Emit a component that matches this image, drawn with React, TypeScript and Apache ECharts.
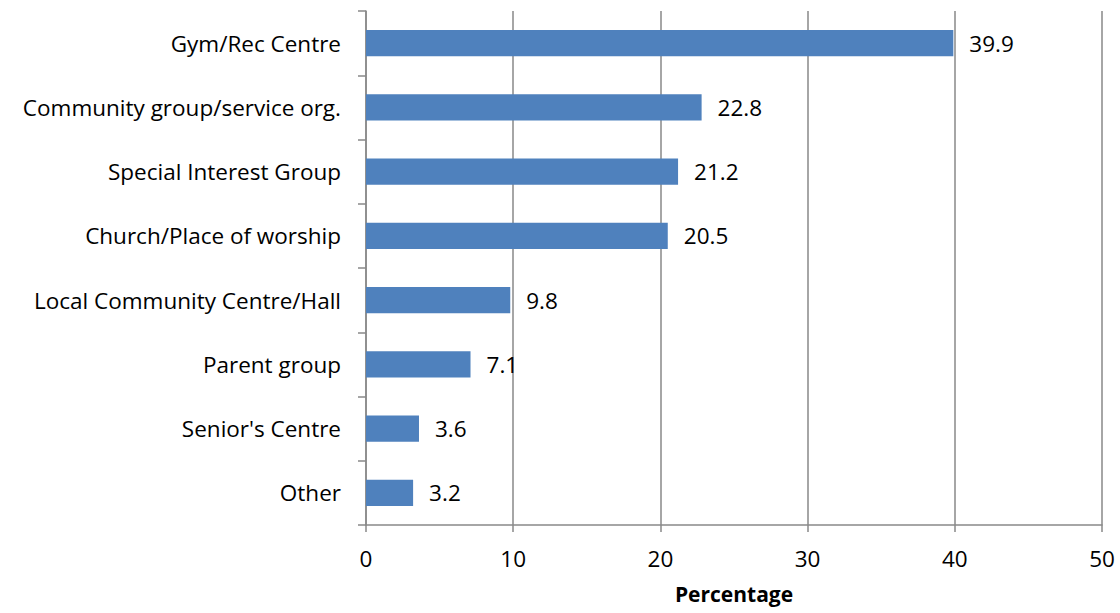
import React, { useEffect, useRef } from "react";
import * as echarts from "echarts";

const categories = [
  "Gym/Rec Centre",
  "Community group/service org.",
  "Special Interest Group",
  "Church/Place of worship",
  "Local Community Centre/Hall",
  "Parent group",
  "Senior's Centre",
  "Other",
];
const values = [39.9, 22.8, 21.2, 20.5, 9.8, 7.1, 3.6, 3.2];
const axisName = "Percentage";

const FONT = "'Open Sans', Lato, sans-serif";
const FS = 22.5;
const GRAY = "#898989";

export default function App() {
  const ref = useRef<HTMLDivElement>(null);
  useEffect(() => {
    const chart = echarts.init(ref.current!, null, { renderer: "svg" });
    chart.setOption({
      animation: false,
      grid: {
        left: 366,
        right: 18,
        top: 11,
        bottom: 88,
        containLabel: false,
        outerBoundsMode: "none",
      },
      xAxis: {
        type: "value",
        min: 0,
        max: 50,
        interval: 10,
        name: axisName,
        nameLocation: "middle",
        nameGap: 58,
        nameTextStyle: {
          fontFamily: FONT,
          fontSize: 21,
          lineHeight: 22,
          fontWeight: "bold",
          color: "#000",
        },
        axisLine: { show: true, lineStyle: { color: GRAY, width: 1.5 } },
        axisTick: { show: true, length: 7, lineStyle: { color: GRAY, width: 1.5 } },
        axisLabel: { fontFamily: FONT, fontSize: FS, color: "#000", margin: 22 },
        splitLine: { show: true, lineStyle: { color: GRAY, width: 1.5 } },
      },
      yAxis: {
        type: "category",
        data: categories,
        inverse: true,
        axisLine: { show: true, lineStyle: { color: GRAY, width: 1.5 } },
        axisTick: { show: true, length: 8, inside: false, lineStyle: { color: GRAY, width: 1.5 } },
        axisLabel: { fontFamily: FONT, fontSize: FS, color: "#000", margin: 25 },
      },
      series: [
        {
          type: "bar",
          data: values,
          barCategoryGap: "59%",
          itemStyle: { color: "#4F81BD" },
          label: {
            show: true,
            position: "right",
            distance: 16,
            fontFamily: FONT,
            fontSize: FS,
            color: "#000",
            formatter: (p: any) => p.value.toFixed(1),
          },
        },
      ],
    });
    return () => chart.dispose();
  }, []);
  return (
    <div
      ref={ref}
      style={{ position: "absolute", left: 0, top: 0, width: 1120, height: 613 }}
    />
  );
}
